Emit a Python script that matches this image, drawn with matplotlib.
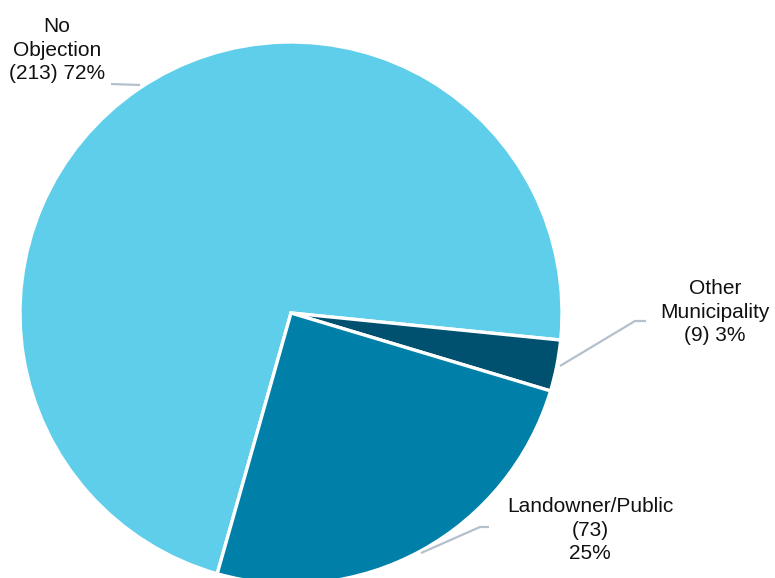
import matplotlib.pyplot as plt

plt.rcParams["font.family"] = ["Liberation Sans", "DejaVu Sans"]

categories = ["No\nObjection", "Other\nMunicipality", "Landowner/Public"]
counts = [213, 9, 73]
percents = [72, 3, 25]
colors = ["#5ECEEA", "#00506F", "#007FA9"]

fig = plt.figure(figsize=(7.75, 5.78), dpi=100)
ax = fig.add_axes([0, 0, 1, 1])

ax.pie(counts, colors=colors, startangle=254.2, counterclock=False,
       center=(291, 265), radius=271, frame=True,
       wedgeprops=dict(edgecolor="white", linewidth=2.4))
ax.set_xlim(0, 775)
ax.set_ylim(0, 578)
ax.set_aspect("equal")
ax.axis("off")

label_text = [
    f"{categories[0]}\n({counts[0]}) {percents[0]}%",
    f"{categories[1]}\n({counts[1]}) {percents[1]}%",
    f"{categories[2]}\n({counts[2]})\n{percents[2]}%",
]
label_pos = [(57, 528), (715, 266), (590, 48)]
leaders = [
    ([111, 140], [494, 493]),
    ([560, 635, 646], [212, 257, 257]),
    ([421, 480, 489], [25, 51, 51]),
]

for txt, (x, y), (lx, ly) in zip(label_text, label_pos, leaders):
    ax.text(x, y, txt, ha="center", va="center", fontsize=15,
            linespacing=1.3, color="#111111")
    ax.plot(lx, ly, color="#B4C0CC", lw=1.6, solid_capstyle="butt")

fig.savefig("out.png", dpi=100)
